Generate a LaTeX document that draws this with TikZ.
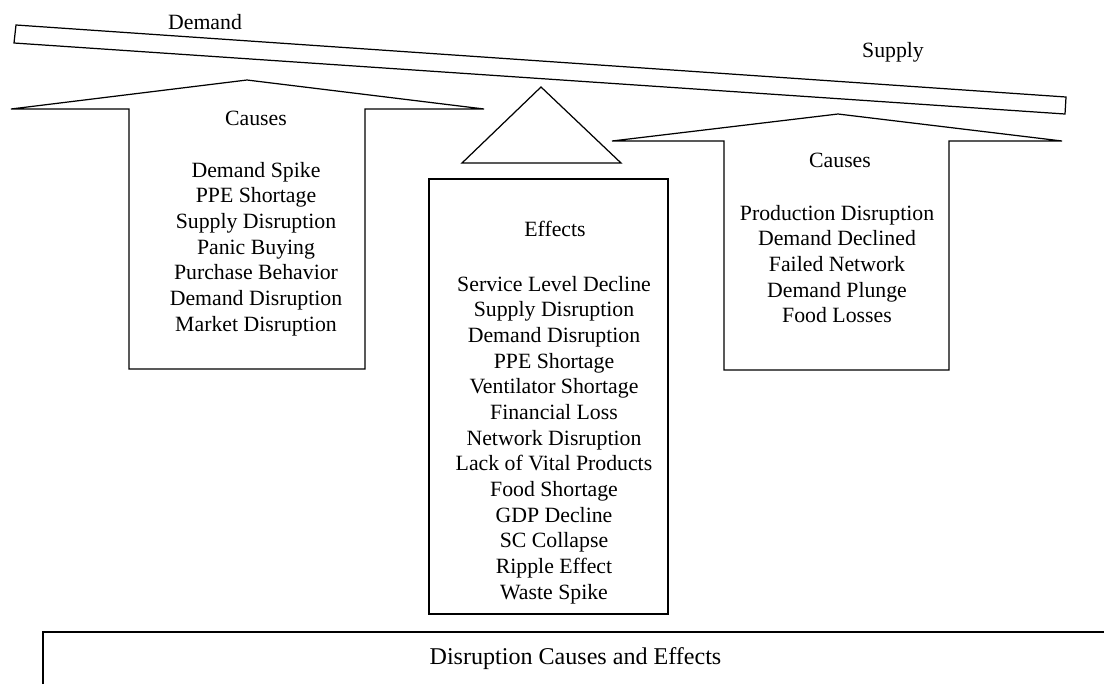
\documentclass[tikz,border=0pt]{standalone}
\usepackage{fontspec}
\setmainfont{Liberation Serif}

\tikzset{
	txt/.style={font=\fontsize{12.4}{14.6}\selectfont, align=center, inner sep=0pt},
	bigtxt/.style={font=\fontsize{13.7}{16}\selectfont, inner sep=0pt},
}

\begin{document}
\begin{tikzpicture}[x=0.02cm, y=-0.02cm, line width=0.7pt]
			%%%%% START %%%%%
			\useasboundingbox (0, 0) rectangle (1104, 684);
			
			% beam
			\draw (16, 25) -- (1066, 97) -- (1065, 114) -- (14, 43) -- cycle;
			\node[txt] (demand) at (205, 22) {Demand};
			\node[txt] (supply) at (893, 52) {Supply};
			
			% fulcrum
			\draw (462, 163) -- (541, 87) -- (621, 163) -- cycle;
			
			% left arrow
			\draw (129, 369) -- (129, 109) -- (11, 109) -- (247, 80) -- (484, 109) -- (365, 109) -- (365, 369) -- cycle;
			\node[txt] (causesL) at (256, 118) {Causes};
			\node[txt] (listL) at (256, 249) {Demand Spike\\PPE Shortage\\Supply Disruption\\Panic Buying\\Purchase Behavior\\Demand Disruption\\Market Disruption};
			
			% right arrow
			\draw (724, 370) -- (724, 141) -- (612, 141) -- (838, 114) -- (1062, 141) -- (949, 141) -- (949, 370) -- cycle;
			\node[txt] (causesR) at (840, 160) {Causes};
			\node[txt] (listR) at (837, 264) {Production Disruption\\Demand Declined\\Failed Network\\Demand Plunge\\Food Losses};
			
			% effects box
			\draw (429, 179) rectangle (668, 614);
			\node[txt] (effects) at (555, 229) {Effects};
			\node[txt] (listE) at (554, 440) {Service Level Decline\\Supply Disruption\\Demand Disruption\\PPE Shortage\\Ventilator Shortage\\Financial Loss\\Network Disruption\\Lack of Vital Products\\Food Shortage\\GDP Decline\\SC Collapse\\Ripple Effect\\Waste Spike};
			
			% base
			\draw (43, 684) -- (43, 632) -- (1104, 632);
			\node[bigtxt, anchor=west] (title) at (429, 659) {Disruption Causes and Effects};
			
			%%%%% END %%%%%
\end{tikzpicture}
\end{document}
